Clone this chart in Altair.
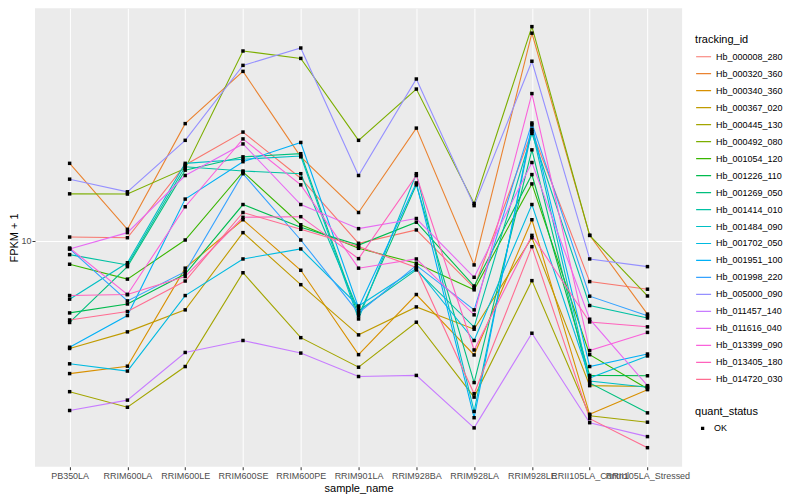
import altair as alt
import pandas as pd

samples = ["PB350LA", "RRIM600LA", "RRIM600LE", "RRIM600SE", "RRIM600PE", "RRIM901LA",
           "RRIM928BA", "RRIM928LA", "RRIM928LE", "RRII105LA_Control", "RRII105LA_Stressed"]

ids = ["Hb_000008_280", "Hb_000320_360", "Hb_000340_360", "Hb_000367_020", "Hb_000445_130",
       "Hb_000492_080", "Hb_001054_120", "Hb_001226_110", "Hb_001269_050", "Hb_001414_010",
       "Hb_001484_090", "Hb_001702_050", "Hb_001951_100", "Hb_001998_220", "Hb_005000_090",
       "Hb_011457_140", "Hb_011616_040", "Hb_013399_090", "Hb_013405_180", "Hb_014720_030"]

colors = ["#F8766D", "#EA8331", "#D89000", "#C09B00", "#A3A500", "#7CAE00", "#39B600", "#00BB4E",
          "#00BF7D", "#00C1A3", "#00BFC4", "#00BAE0", "#00B0F6", "#35A2FF", "#9590FF", "#C77CFF",
          "#E76BF3", "#FA62DB", "#FF62BC", "#FF6C91"]

hb_000008_280 = [10.28, 10.23, 17.0, 21.4, 15.5, 9.84, 10.8, 7.21, 21.5, 7.53, 7.14]
hb_000320_360 = [17.2, 10.85, 22.7, 32.7, 18.0, 12.2, 22.0, 8.46, 42.7, 10.4, 6.00]
hb_000340_360 = [3.96, 4.17, 8.27, 11.6, 8.15, 4.52, 6.88, 4.51, 11.6, 2.98, 3.54]
hb_000367_020 = [4.72, 5.30, 6.18, 10.6, 7.37, 5.19, 6.31, 5.40, 10.23, 3.64, 3.62]
hb_000445_130 = [3.49, 3.13, 4.16, 8.01, 5.09, 4.14, 5.67, 3.36, 7.58, 2.95, 2.82]
hb_000492_080 = [13.9, 13.88, 16.6, 37.7, 35.8, 20.2, 28.9, 13.0, 44.7, 10.4, 6.81]
hb_001054_120 = [8.50, 7.66, 10.07, 16.2, 11.2, 9.50, 8.56, 7.11, 14.9, 4.52, 3.56]
hb_001226_110 = [6.05, 6.44, 7.94, 12.9, 11.0, 9.72, 11.4, 7.30, 15.9, 3.91, 3.90]
hb_001269_050 = [5.66, 8.36, 16.4, 18.0, 18.4, 5.93, 14.8, 3.72, 18.9, 3.71, 3.01]
hb_001414_010 = [9.09, 8.46, 16.8, 16.3, 16.0, 6.14, 8.17, 5.48, 21.2, 6.37, 5.84]
hb_001484_090 = [6.66, 8.59, 17.2, 17.7, 18.1, 5.80, 16.0, 3.04, 21.8, 3.76, 3.60]
hb_001702_050 = [4.24, 4.03, 6.83, 8.82, 9.46, 6.35, 8.25, 4.99, 12.9, 3.84, 4.48]
hb_001951_100 = [4.76, 5.94, 13.4, 17.4, 19.9, 6.27, 15.0, 2.91, 22.5, 4.16, 4.54]
hb_001998_220 = [9.46, 6.58, 8.07, 16.0, 10.07, 6.05, 8.43, 6.18, 22.8, 6.80, 5.93]
hb_005000_090 = [15.4, 14.1, 20.2, 34.1, 38.5, 15.8, 31.0, 12.8, 35.1, 8.82, 8.36]
hb_011457_140 = [3.06, 3.29, 4.59, 4.99, 4.57, 3.88, 3.91, 2.71, 5.25, 2.81, 2.55]
hb_011616_040 = [9.46, 10.6, 15.8, 19.7, 12.9, 10.9, 11.7, 7.76, 17.3, 5.79, 3.64]
hb_013399_090 = [9.52, 6.88, 12.7, 20.4, 14.8, 8.27, 8.82, 5.97, 28.0, 4.65, 5.28]
hb_013405_180 = [6.83, 6.88, 7.80, 11.8, 11.85, 8.84, 15.8, 4.67, 10.4, 5.68, 5.49]
hb_014720_030 = [5.76, 6.11, 7.56, 12.2, 10.85, 9.62, 8.31, 3.44, 9.61, 2.89, 2.36]

series = [hb_000008_280, hb_000320_360, hb_000340_360, hb_000367_020, hb_000445_130,
          hb_000492_080, hb_001054_120, hb_001226_110, hb_001269_050, hb_001414_010,
          hb_001484_090, hb_001702_050, hb_001951_100, hb_001998_220, hb_005000_090,
          hb_011457_140, hb_011616_040, hb_013399_090, hb_013405_180, hb_014720_030]

rows = []
for tid, vals in zip(ids, series):
    for i, (s, v) in enumerate(zip(samples, vals)):
        rows.append({"tracking_id": tid, "sample_name": s, "idx": i, "fpkm": v, "quant_status": "OK"})
df = pd.DataFrame(rows)

FONT = "Liberation Sans"
square = "M-0.22,-0.22H0.22V0.22H-0.22Z"

x_enc = alt.X("sample_name:N", sort=samples,
              scale=alt.Scale(type="point", padding=0.6),
              axis=alt.Axis(labelAngle=0, labelOverlap=False, tickColor="#333333", tickSize=3,
                            labelPadding=2, labelFontSize=9, labelColor="#4D4D4D", labelFont=FONT,
                            domain=False, grid=True, gridColor="white", gridWidth=1,
                            titleFontSize=11, titleFontWeight="normal", titleColor="black",
                            titleFont=FONT, titlePadding=2),
              title="sample_name")
y_enc = alt.Y("fpkm:Q",
              scale=alt.Scale(type="log", domain=[2.066, 50.8], nice=False),
              axis=alt.Axis(values=[10], tickColor="#333333", tickSize=3, labelPadding=1,
                            labelFontSize=9, labelColor="#4D4D4D", labelFont=FONT,
                            domain=False, grid=True, gridColor="white", gridWidth=1,
                            titleFontSize=11, titleFontWeight="normal", titleColor="black",
                            titleFont=FONT, titlePadding=1),
              title="FPKM + 1")

base = alt.Chart(df)

lines = base.mark_line(strokeWidth=1.1).encode(
    x=x_enc, y=y_enc,
    order=alt.Order("idx:Q"),
    color=alt.Color("tracking_id:N",
                    scale=alt.Scale(domain=ids, range=colors),
                    legend=alt.Legend(title="tracking_id", orient="none", legendX=661, legendY=26,
                                      symbolType="stroke", symbolSize=225, symbolStrokeWidth=1.2,
                                      labelFontSize=9, labelFont=FONT, labelColor="black",
                                      titleFontSize=11, titleFontWeight="normal", titleFont=FONT,
                                      titleColor="black", clipHeight=16.95, rowPadding=0,
                                      titlePadding=3, labelOffset=4, padding=0)),
)

points = base.mark_point(filled=True, opacity=1, size=250, color="black", strokeWidth=0).encode(
    x=x_enc, y=y_enc,
    shape=alt.Shape("quant_status:N",
                    scale=alt.Scale(domain=["OK"], range=[square]),
                    legend=alt.Legend(title="quant_status", orient="none", legendX=661, legendY=398,
                                      symbolSize=225, symbolFillColor="black", symbolStrokeWidth=0,
                                      labelFontSize=9, labelFont=FONT, labelColor="black",
                                      titleFontSize=11, titleFontWeight="normal", titleFont=FONT,
                                      titleColor="black", clipHeight=17.32, rowPadding=0,
                                      titlePadding=3, labelOffset=4, padding=0)),
)

chart = alt.layer(lines, points).properties(
    width=648, height=459,
    autosize="none",
    padding={"left": 27, "top": 0, "right": 110, "bottom": 30},
    background="white",
).configure_view(fill="#EBEBEB", stroke=None)

chart.save("out.html", embed_options={"renderer": "svg", "actions": False})
